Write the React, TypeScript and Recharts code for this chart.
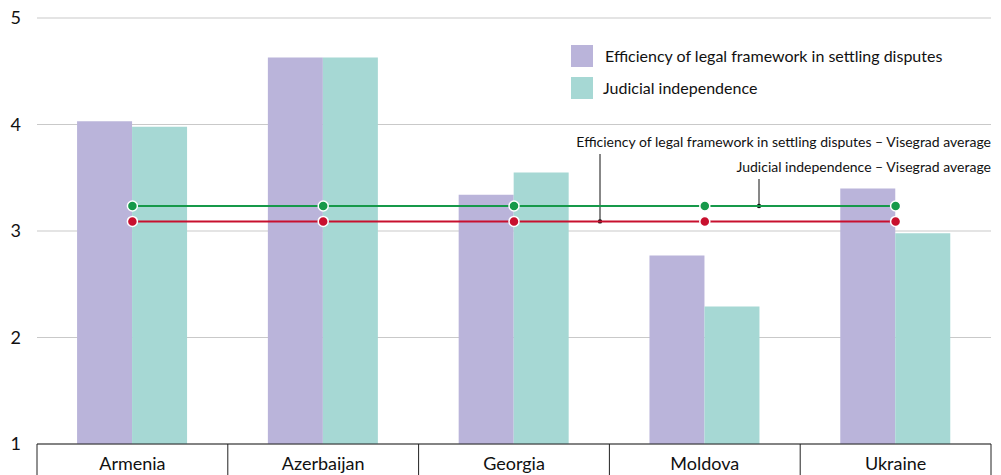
import { ComposedChart, Bar, Line, XAxis, YAxis, CartesianGrid, Customized } from 'recharts';

const categories = ['Armenia', 'Azerbaijan', 'Georgia', 'Moldova', 'Ukraine'];
const efficiency = [4.03, 4.63, 3.34, 2.77, 3.4];
const independence = [3.98, 4.63, 3.55, 2.29, 2.98];
const efficiencyV4 = [3.09, 3.09, 3.09, 3.09, 3.09];
const independenceV4 = [3.235, 3.235, 3.235, 3.235, 3.235];
const yTicks = [1, 2, 3, 4, 5];

const W = 1001;
const H = 475;
const X_AXIS_H = 31;
const M = { top: 18, right: 10, bottom: 0, left: 0 };
const Y_AXIS_W = 37;
const FONT = 'Lato, "Noto Sans", sans-serif';

const PURPLE = '#bab4da';
const TEAL = '#a6d8d4';
const GREEN = '#16994a';
const RED = '#c8102e';

const data = categories.map((name, i) => ({
  name,
  efficiency: efficiency[i],
  independence: independence[i],
  efficiencyV4: efficiencyV4[i],
  independenceV4: independenceV4[i],
}));

const plotLeft = M.left + Y_AXIS_W;
const plotRight = W - M.right;
const plotBottom = H - M.bottom - X_AXIS_H;
const bandW = (plotRight - plotLeft) / categories.length;
const yOf = (v: number) => M.top + ((5 - v) / 4) * (plotBottom - M.top);

const CategoryTick = ({ x, y, payload, index }: any) => (
  <g>
    <line x1={x - bandW / 2} y1={y} x2={x - bandW / 2} y2={H} stroke="#222" strokeWidth={1} />
    {index === categories.length - 1 && (
      <line x1={x + bandW / 2} y1={y} x2={x + bandW / 2} y2={H} stroke="#222" strokeWidth={1} />
    )}
    <text x={x} y={y + 26} textAnchor="middle" fontSize={18} fill="#111" fontFamily={FONT}>
      {payload.value}
    </text>
  </g>
);

const Annotations = () => {
  const redY = yOf(efficiencyV4[0]);
  const greenY = yOf(independenceV4[0]);
  return (
    <g fontFamily={FONT} fill="#111">
      <rect x={571} y={45} width={22} height={22} fill={PURPLE} />
      <text x={605} y={62} fontSize={16}>Efficiency of legal framework in settling disputes</text>
      <rect x={571} y={77} width={22} height={22} fill={TEAL} />
      <text x={603} y={94} fontSize={16}>Judicial independence</text>

      <text x={plotRight} y={147} fontSize={14} textAnchor="end">
        Efficiency of legal framework in settling disputes – Visegrad average
      </text>
      <line x1={600} y1={154} x2={600} y2={redY} stroke="#111" strokeWidth={1} />
      <circle cx={600} cy={redY} r={2.2} fill="#111" />

      <text x={plotRight} y={172} fontSize={14} textAnchor="end">
        Judicial independence – Visegrad average
      </text>
      <line x1={759} y1={179} x2={759} y2={greenY} stroke="#111" strokeWidth={1} />
      <circle cx={759} cy={greenY} r={2.2} fill="#111" />
    </g>
  );
};

export default function App() {
  return (
    <div style={{ position: 'absolute', left: 0, top: 0, background: '#fff' }}>
      <ComposedChart width={W} height={H} data={data} margin={M} barGap={0} barCategoryGap="21%">
        <CartesianGrid vertical={false} stroke="#c9c9c9" />
        <XAxis
          dataKey="name"
          height={X_AXIS_H}
          tickLine={false}
          tickSize={0}
          tickMargin={0}
          axisLine={{ stroke: '#222' }}
          tick={<CategoryTick />}
          interval={0}
        />
        <YAxis
          domain={[1, 5]}
          ticks={yTicks}
          width={Y_AXIS_W}
          axisLine={false}
          tickLine={false}
          tickSize={0}
          tickMargin={16}
          tick={{ fill: '#111', fontSize: 18, fontFamily: FONT }}
        />
        <Bar dataKey="efficiency" fill={PURPLE} isAnimationActive={false} />
        <Bar dataKey="independence" fill={TEAL} isAnimationActive={false} />
        <Line
          dataKey="independenceV4"
          stroke={GREEN}
          strokeWidth={2}
          dot={{ r: 5, fill: GREEN, stroke: '#fff', strokeWidth: 1.5 }}
          isAnimationActive={false}
        />
        <Line
          dataKey="efficiencyV4"
          stroke={RED}
          strokeWidth={2}
          dot={{ r: 5, fill: RED, stroke: '#fff', strokeWidth: 1.5 }}
          isAnimationActive={false}
        />
        <Customized component={<Annotations />} />
      </ComposedChart>
    </div>
  );
}
